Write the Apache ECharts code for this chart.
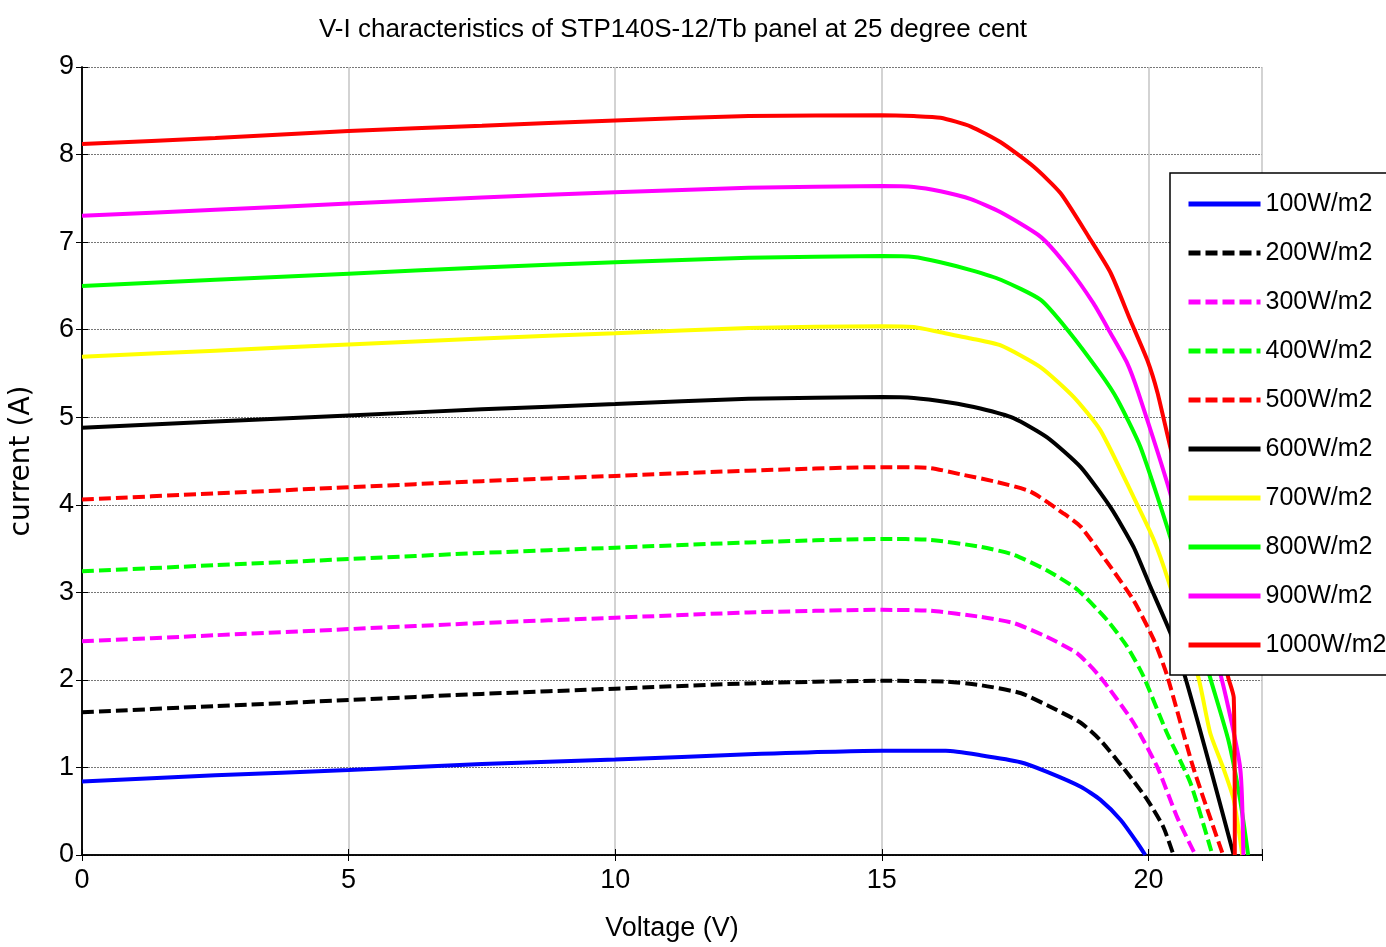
<!DOCTYPE html>
<html>
<head>
<meta charset="utf-8">
<title>V-I characteristics</title>
<script src="https://cdn.jsdelivr.net/npm/echarts@6/dist/echarts.min.js"></script>
<style>
  html,body{margin:0;padding:0;background:#fff;}
  #chart{width:1386px;height:947px;}
</style>
</head>
<body>
<div id="chart"></div>
<script>
// irradiance levels (legend)
var names = ['100W/m2','200W/m2','300W/m2','400W/m2','500W/m2','600W/m2','700W/m2','800W/m2','900W/m2','1000W/m2'];

// voltage (V) / current (A), one pair per curve
var v100 = [0,2.5,5,7.5,10,12.5,15,16.2,16.85,17.6,18.1,18.73,19.1,19.48,19.79,19.94];
var i100 = [0.84,0.91,0.97,1.04,1.09,1.15,1.19,1.19,1.14,1.06,0.95,0.78,0.63,0.40,0.14,0];
var v200 = [0,2.5,5,7.5,10,12.5,15,16.2,16.85,17.6,18.1,18.73,19.1,19.6,19.98,20.28,20.47];
var i200 = [1.63,1.70,1.77,1.84,1.90,1.96,1.99,1.98,1.94,1.85,1.71,1.51,1.31,0.94,0.63,0.32,0];
var v300 = [0,2.5,5,7.5,10,12.5,15,15.9,16.85,17.47,18.1,18.67,19.1,19.72,20.17,20.54,20.88];
var i300 = [2.44,2.51,2.58,2.65,2.71,2.77,2.80,2.79,2.72,2.65,2.49,2.30,2.03,1.51,1.0,0.43,0];
var v400 = [0,2.5,5,7.5,10,12.5,15,15.9,16.85,17.47,18.1,18.67,19.23,19.6,19.9,20.35,20.79,21.2];
var i400 = [3.24,3.31,3.38,3.45,3.51,3.57,3.61,3.60,3.52,3.43,3.25,3.03,2.68,2.38,2.05,1.39,0.82,0];
var v500 = [0,2.5,5,7.5,10,12.5,15,15.9,16.54,17.16,17.79,18.41,18.73,19.29,19.72,20.1,20.35,20.84,21.4];
var i500 = [4.06,4.13,4.20,4.27,4.33,4.39,4.43,4.42,4.34,4.26,4.15,3.90,3.75,3.29,2.91,2.46,2.05,1.0,0];
var v600 = [0,2.5,5,7.5,10,12.5,15,15.6,16.24,16.85,17.47,18.1,18.73,19.29,19.72,20.04,20.41,20.69,21.16,21.6];
var i600 = [4.88,4.95,5.02,5.09,5.15,5.21,5.23,5.22,5.17,5.10,4.99,4.77,4.43,3.97,3.52,3.06,2.54,2.03,1.0,0];
var v700 = [0,2.5,5,7.5,10,12.5,15,15.6,16.1,16.67,17.23,17.98,18.6,19.1,19.72,20.1,20.37,20.94,21.16,21.4,21.6,21.76];
var i700 = [5.69,5.76,5.83,5.90,5.96,6.02,6.04,6.03,5.97,5.90,5.82,5.57,5.23,4.85,4.09,3.60,3.14,2.02,1.39,1.0,0.63,0];
var v800 = [0,2.5,5,7.5,10,12.5,15,15.6,16.1,16.67,17.23,17.98,18.48,19.1,19.42,19.85,20.41,21.16,21.5,21.72,21.87];
var i800 = [6.50,6.57,6.64,6.71,6.77,6.82,6.84,6.83,6.77,6.68,6.57,6.34,6.0,5.5,5.2,4.66,3.63,2.02,1.31,0.63,0];
var v900 = [0,2.5,5,7.5,10,12.5,15,15.6,16.1,16.67,17.23,17.98,18.48,18.97,19.29,19.6,19.81,20.41,21.37,21.72,21.78];
var i900 = [7.30,7.37,7.44,7.51,7.57,7.62,7.64,7.63,7.58,7.49,7.34,7.06,6.72,6.30,5.96,5.62,5.28,4.13,2.02,1.0,0];
var v1000 = [0,2.5,5,7.5,10,12.5,15,15.6,16.1,16.67,17.23,17.85,18.35,18.88,19.29,19.66,19.98,20.17,20.41,21.5,21.6,21.62];
var i1000 = [8.12,8.19,8.27,8.33,8.39,8.44,8.45,8.44,8.42,8.32,8.14,7.86,7.56,7.06,6.65,6.11,5.65,5.28,4.66,2.02,1.8,0];

var xTicks = [0,5,10,15,20];
var yTicks = [0,1,2,3,4,5,6,7,8,9];

var volts = [v100,v200,v300,v400,v500,v600,v700,v800,v900,v1000];
var amps  = [i100,i200,i300,i400,i500,i600,i700,i800,i900,i1000];
var colors = ['#0000ff','#000000','#ff00ff','#00ff00','#ff0000','#000000','#ffff00','#00ff00','#ff00ff','#ff0000'];
var dashed = [false,true,true,true,true,false,false,false,false,false];

var txtFont = "'Liberation Sans',Arial,sans-serif";

function zip(v,i){
  var out=[];
  for(var k=0;k<v.length;k++){ out.push([v[k],i[k]]); }
  return out;
}

var series = [];
for(var s=0;s<names.length;s++){
  series.push({
    name:names[s],
    type:'line',
    data:zip(volts[s],amps[s]),
    symbol:'none',
    smooth:0.2,
    lineStyle:{color:colors[s],width:4,type:dashed[s]?[12,5]:'solid'},
    itemStyle:{color:colors[s]}
  });
}

var chart = echarts.init(document.getElementById('chart'));
var option = {
  animation:false,
  backgroundColor:'#fff',
  title:{
    text:'V-I characteristics of STP140S-12/Tb panel at 25 degree cent',
    left:668, top:12, textAlign:'center',
    textStyle:{fontFamily:txtFont,fontSize:26,fontWeight:'normal',color:'#000'}
  },
  legend:{
    data:names,
    orient:'vertical',
    left:1170, top:173,
    itemWidth:72, itemHeight:14, itemGap:19,
    padding:[16,10,15,16],
    borderColor:'#000', borderWidth:1.5, backgroundColor:'#fff',
    itemStyle:{opacity:0},
    lineStyle:{width:5},
    textStyle:{fontFamily:txtFont,fontSize:25,lineHeight:30,color:'#000'}
  },
  grid:{left:80,top:67,right:124,bottom:92,containLabel:false},
  xAxis:[{
    type:'value', min:0, max:22.13, interval:5,
    name:'Voltage (V)', nameLocation:'middle', nameGap:60,
    nameTextStyle:{fontFamily:txtFont,fontSize:27,color:'#000'},
    axisLine:{lineStyle:{color:'#000',width:1.5}},
    axisTick:{inside:true,length:6,lineStyle:{color:'#000'}},
    axisLabel:{fontFamily:txtFont,fontSize:27,color:'#000',margin:12,
      formatter:function(v){return xTicks.indexOf(v)>=0?String(v):'';}},
    splitLine:{show:true,lineStyle:{color:'#c4c4c4',width:1.5,type:'solid'}}
  },{
    type:'value', min:0, max:22.13, interval:5, position:'top',
    axisLine:{lineStyle:{color:'#000',width:1.5}},
    axisTick:{inside:true,length:6,lineStyle:{color:'#000'}},
    axisLabel:{show:false}, splitLine:{show:false}
  }],
  yAxis:[{
    type:'value', min:0, max:9, interval:1,
    name:'current (A)', nameLocation:'middle', nameGap:46,
    nameTextStyle:{fontFamily:"'DejaVu Sans',sans-serif",fontSize:28,color:'#000'},
    axisLine:{lineStyle:{color:'#000',width:1.5}},
    axisTick:{inside:true,length:6,lineStyle:{color:'#000'}},
    axisLabel:{fontFamily:txtFont,fontSize:27,color:'#000',margin:8,
      formatter:function(v){return yTicks.indexOf(v)>=0?String(v):'';}},
    splitLine:{show:true,lineStyle:{color:'#777',width:1,type:[2,1]}}
  },{
    type:'value', min:0, max:9, interval:1, position:'right',
    axisLine:{lineStyle:{color:'#000',width:1.5}},
    axisTick:{inside:true,length:6,lineStyle:{color:'#000'}},
    axisLabel:{show:false}, splitLine:{show:false}
  }],
  series:series
};
chart.setOption(option);
</script>
</body>
</html>
